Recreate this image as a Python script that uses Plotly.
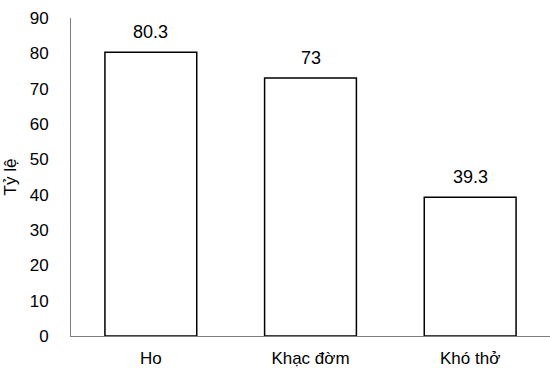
import plotly.graph_objects as go

categories = ["Ho", "Khạc đờm", "Khó thở"]
values = [80.3, 73, 39.3]
value_labels = ["80.3", "73", "39.3"]
y_ticks = [0, 10, 20, 30, 40, 50, 60, 70, 80, 90]

fig = go.Figure(go.Bar(
    x=categories, y=values,
    marker=dict(color="white", line=dict(color="black", width=1.5)),
    width=0.575,
    hoverinfo="skip",
))

for c, v, t in zip(categories, values, value_labels):
    fig.add_annotation(x=c, y=v, text=t, showarrow=False, yanchor="bottom",
                       yshift=8, font=dict(size=18, color="black"))

fig.update_layout(
    width=550, height=368,
    margin=dict(l=71, r=0, t=18, b=32),
    paper_bgcolor="white", plot_bgcolor="white",
    font=dict(family="Liberation Sans, Arial, sans-serif", size=17, color="black"),
    showlegend=False,
)
fig.update_yaxes(
    range=[0, 90], tickvals=y_ticks, showgrid=False, zeroline=False,
    showline=True, linecolor="#7f7f7f", linewidth=1, automargin=False,
    ticks="", ticklabelstandoff=18,
    title=dict(text="Tỷ lệ", standoff=8, font=dict(size=17)),
)
fig.update_xaxes(
    range=[-0.5, 2.5], showgrid=False, showline=True, linecolor="#7f7f7f",
    linewidth=1, ticks="", ticklabelstandoff=7, automargin=False,
)

fig.write_html("out.html", config={"displayModeBar": False, "staticPlot": True},
               post_script="document.body.style.margin='0';document.body.style.overflow='hidden';")
